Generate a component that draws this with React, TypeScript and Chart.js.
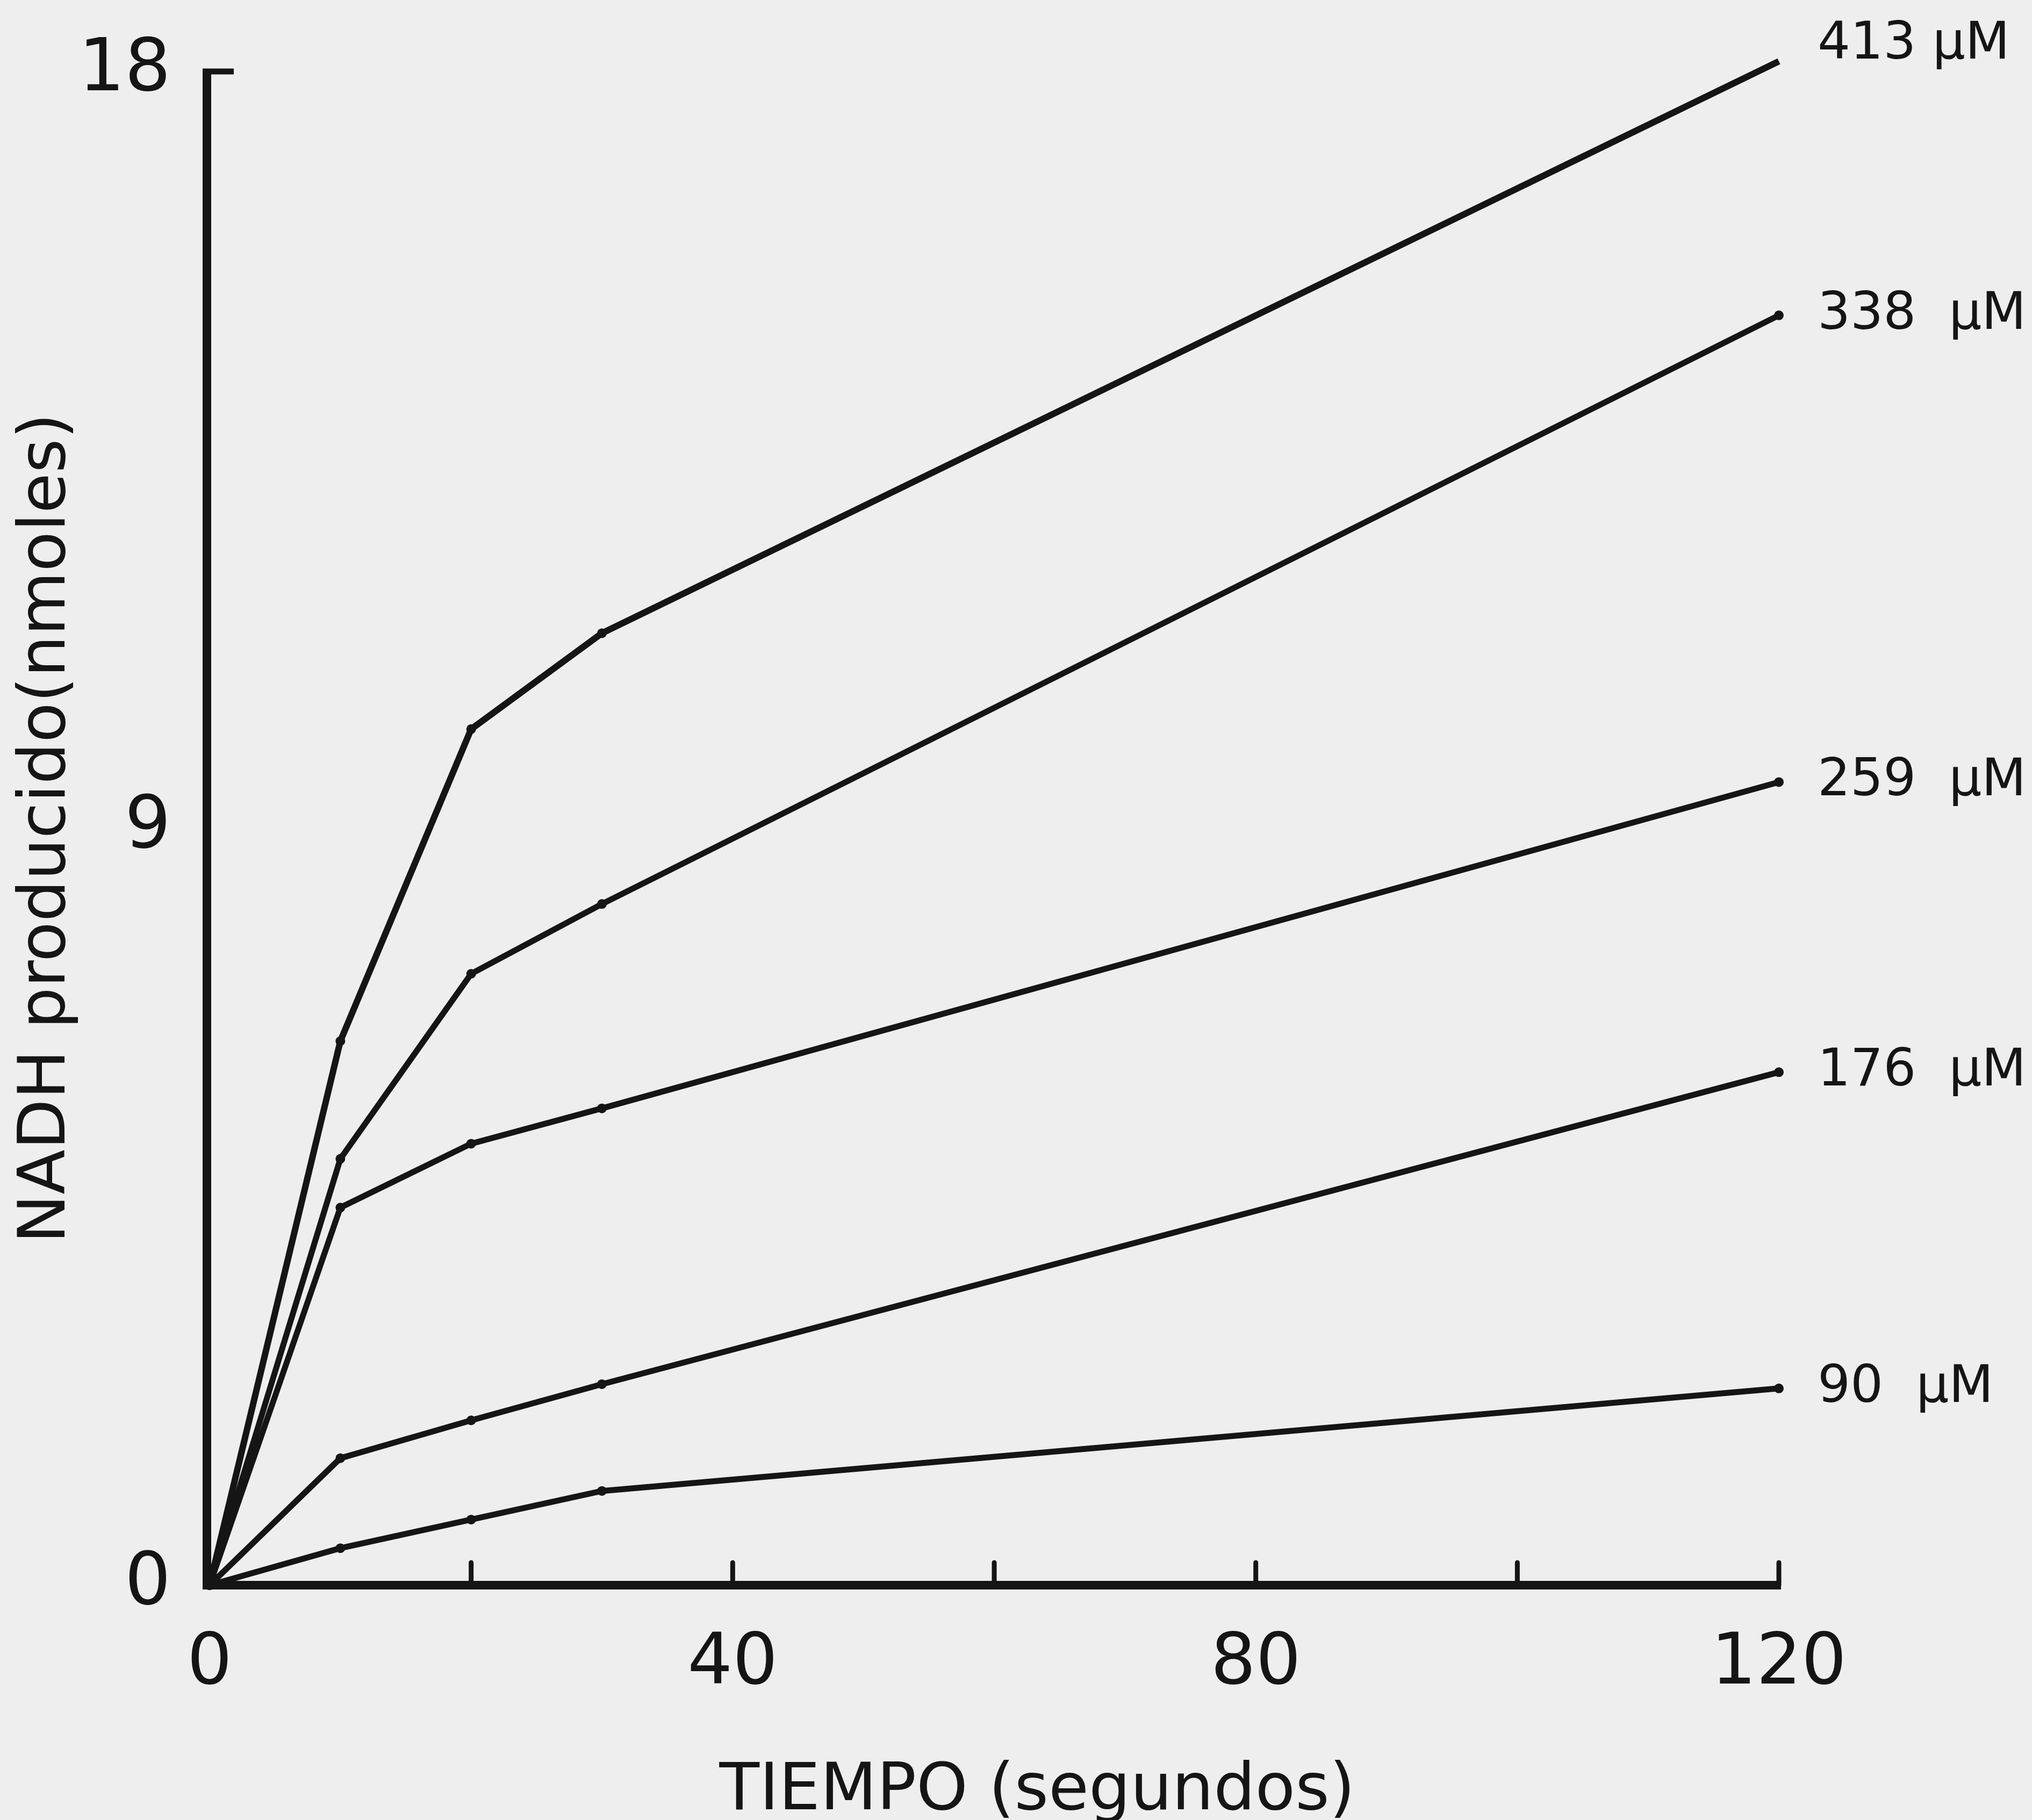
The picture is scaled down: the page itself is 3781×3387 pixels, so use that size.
import { useEffect, useRef } from 'react';
import { Chart, registerables } from 'chart.js';

Chart.register(...registerables);

// ---- data ----
const times = [0, 10, 20, 30, 120];
const seriesLabels = ['413 µM', '338  µM', '259  µM', '176  µM', '90  µM'];
const s413 = [0, 6.47, 10.18, 11.32, 18.12];
const s338 = [0, 5.07, 7.27, 8.1, 15.1];
const s259 = [0, 4.49, 5.25, 5.67, 9.55];
const s176 = [0, 1.51, 1.96, 2.39, 6.1];
const s90 = [0, 0.44, 0.78, 1.12, 2.34];
const xTicks = [0, 20, 40, 60, 80, 100, 120];
const xTickLabels = ['0', '', '40', '', '80', '', '120'];
const yTicks = [0, 9, 18];
const yTickLabels = ['0', '9', '18'];
const xTitle = 'TIEMPO (segundos)';
const yTitle = 'NADH producido(nmoles)';

// ---- style ----
const W = 3781;
const H = 3387;
const INK = '#151515';
const BG = '#eeeeee';
const FONT = "'DejaVu Sans', sans-serif";
const labelDy = [-30, 0, 0, 0, 0];
const lineWidths = [12, 11, 11, 11, 11];

const allSeries = [s413, s338, s259, s176, s90];

export default function App() {
  const ref = useRef<HTMLCanvasElement | null>(null);

  useEffect(() => {
    document.body.style.margin = '0';
    document.body.style.background = BG;
    const canvas = ref.current;
    if (!canvas) return;

    const bgPlugin = {
      id: 'bg',
      beforeDraw(chart: any) {
        const { ctx } = chart;
        ctx.save();
        ctx.fillStyle = BG;
        ctx.fillRect(0, 0, chart.width, chart.height);
        ctx.restore();
      },
    };

    const axesPlugin = {
      id: 'axesDraw',
      beforeDatasetsDraw(chart: any) {
        const { ctx } = chart;
        const xs = chart.scales.x;
        const ys = chart.scales.y;
        const x0 = xs.getPixelForValue(0) - 5;
        const y0 = ys.getPixelForValue(0);
        const yTop = ys.getPixelForValue(18);
        const xEnd = xs.getPixelForValue(120);
        ctx.save();
        ctx.strokeStyle = INK;
        ctx.lineCap = 'butt';
        // y axis
        ctx.lineWidth = 16;
        ctx.beginPath();
        ctx.moveTo(x0, y0 + 8);
        ctx.lineTo(x0, yTop - 5);
        ctx.stroke();
        // top tick
        ctx.lineWidth = 11;
        ctx.beginPath();
        ctx.moveTo(x0 - 8, yTop);
        ctx.lineTo(x0 + 50, yTop);
        ctx.stroke();
        // x axis
        ctx.lineWidth = 16;
        ctx.beginPath();
        ctx.moveTo(x0 - 8, y0);
        ctx.lineTo(xEnd + 4, y0);
        ctx.stroke();
        // x ticks (inward)
        ctx.lineWidth = 9;
        ctx.lineCap = 'round';
        xTicks.forEach((v) => {
          if (v === 0) return;
          const px = xs.getPixelForValue(v);
          ctx.beginPath();
          ctx.moveTo(px, y0);
          ctx.lineTo(px, y0 - 42);
          ctx.stroke();
        });
        ctx.restore();
      },
    };

    const labelPlugin = {
      id: 'seriesLabels',
      afterDatasetsDraw(chart: any) {
        const { ctx } = chart;
        const xs = chart.scales.x;
        ctx.save();
        ctx.fillStyle = INK;
        ctx.font = `96px ${FONT}`;
        ctx.textAlign = 'left';
        ctx.textBaseline = 'middle';
        chart.data.datasets.forEach((_: any, i: number) => {
          const meta = chart.getDatasetMeta(i);
          const last = meta.data[meta.data.length - 1];
          ctx.fillText(seriesLabels[i], last.x + 72, last.y + labelDy[i]);
        });
        // x axis title (offset right of the axis centre, as in the original)
        ctx.font = `122px ${FONT}`;
        ctx.textAlign = 'center';
        ctx.textBaseline = 'alphabetic';
        const cx = (xs.left + xs.right) / 2 + 80;
        ctx.fillText(xTitle, cx, H - 20);
        ctx.restore();
      },
    };

    const chart = new Chart(canvas, {
      type: 'line',
      data: {
        datasets: allSeries.map((s, i) => ({
          label: seriesLabels[i],
          data: times.map((t, j) => ({ x: t, y: s[j] })),
          borderColor: INK,
          backgroundColor: INK,
          borderWidth: lineWidths[i],
          pointRadius: 9,
          pointBorderWidth: 0,
          pointBackgroundColor: INK,
          tension: 0,
          fill: false,
          clip: false as any,
        })),
      },
      options: {
        responsive: false,
        animation: false,
        devicePixelRatio: 1,
        layout: { padding: { top: 133, right: W - 3310, left: 0, bottom: 0 } },
        plugins: {
          legend: { display: false },
          tooltip: { enabled: false },
          title: { display: false },
        },
        scales: {
          x: {
            type: 'linear',
            min: 0,
            max: 120,
            grid: { display: false, drawTicks: false },
            border: { display: false },
            afterBuildTicks: (scale: any) => {
              scale.ticks = xTicks.map((v) => ({ value: v }));
            },
            afterFit: (scale: any) => {
              scale.height = H - 2950;
              scale.paddingLeft = 0;
              scale.paddingRight = 0;
            },
            ticks: {
              autoSkip: false,
              maxRotation: 0,
              minRotation: 0,
              padding: 70,
              color: INK,
              font: { family: FONT, size: 132 },
              callback: (v: any) => {
                const idx = xTicks.indexOf(Number(v));
                return idx >= 0 ? xTickLabels[idx] : '';
              },
            },
            title: { display: false },
          },
          y: {
            type: 'linear',
            min: 0,
            max: 18,
            grid: { display: false, drawTicks: false },
            border: { display: false },
            afterBuildTicks: (scale: any) => {
              scale.ticks = yTicks.map((v) => ({ value: v }));
            },
            afterFit: (scale: any) => {
              scale.width = 390;
              scale.paddingTop = 0;
              scale.paddingBottom = 0;
            },
            ticks: {
              padding: 72,
              color: INK,
              font: { family: FONT, size: 135 },
              callback: (v: any) => {
                const idx = yTicks.indexOf(Number(v));
                return idx >= 0 ? yTickLabels[idx] : '';
              },
            },
            title: {
              display: true,
              text: yTitle,
              color: INK,
              font: { family: FONT, size: 122, lineHeight: 1.2 },
              padding: { top: 15, bottom: 0 },
            },
          },
        },
      },
      plugins: [bgPlugin, axesPlugin, labelPlugin],
    });

    return () => chart.destroy();
  }, []);

  return (
    <div style={{ width: W, height: H, background: BG }}>
      <canvas ref={ref} width={W} height={H} style={{ display: 'block' }} />
    </div>
  );
}
